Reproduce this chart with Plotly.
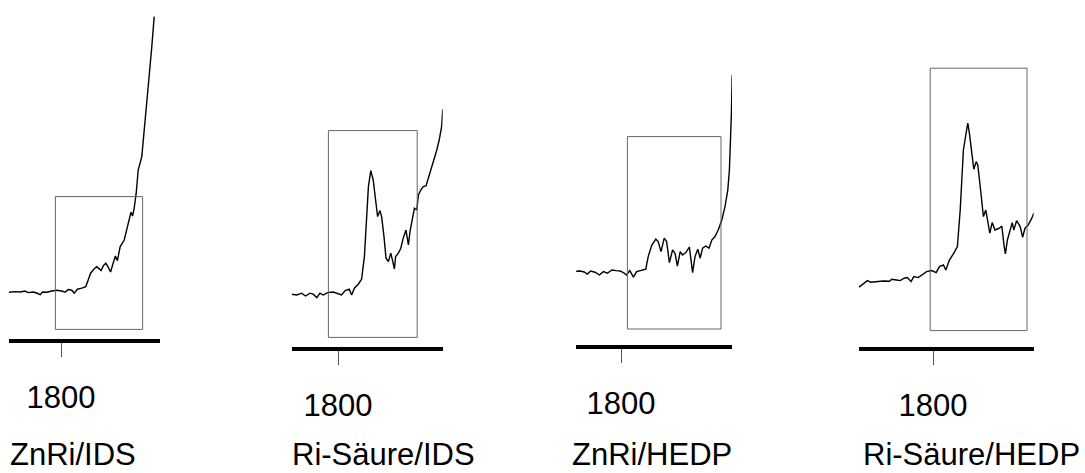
import plotly.graph_objects as go

# ---- spectra: wavenumber (cm-1) and absorbance (a.u.) -------------------
znri_ids_wn = [1930, 1915, 1902, 1890, 1882, 1869, 1861, 1852, 1846, 1836, 1823, 1811,
               1798, 1790, 1782, 1773, 1767, 1759, 1748, 1738, 1732, 1726, 1718, 1711,
               1705, 1700, 1694, 1688, 1682, 1676, 1671, 1664, 1659, 1652, 1642, 1636,
               1629, 1625, 1621, 1617, 1612, 1607, 1598, 1594, 1586, 1579, 1573, 1567]
znri_ids_abs = [0.244, 0.247, 0.245, 0.250, 0.242, 0.245, 0.240, 0.232, 0.245, 0.244, 0.250, 0.254,
                0.250, 0.244, 0.257, 0.254, 0.239, 0.259, 0.264, 0.272, 0.305, 0.339, 0.359, 0.372,
                0.362, 0.352, 0.377, 0.389, 0.369, 0.345, 0.380, 0.425, 0.402, 0.472, 0.505, 0.555,
                0.619, 0.644, 0.625, 0.664, 0.739, 0.855, 0.922, 1.005, 1.155, 1.339, 1.472, 1.622]

risaeure_ids_wn = [1916, 1903, 1891, 1881, 1870, 1862, 1853, 1845, 1837, 1826, 1812, 1801,
                   1791, 1782, 1772, 1766, 1759, 1749, 1741, 1734, 1728, 1724, 1718, 1712,
                   1706, 1701, 1695, 1691, 1685, 1680, 1674, 1668, 1663, 1659, 1656, 1649,
                   1643, 1637, 1630, 1624, 1620, 1614, 1609, 1603, 1599, 1593, 1587, 1580,
                   1574, 1568, 1560, 1553, 1547, 1541, 1538]
risaeure_ids_abs = [0.274, 0.270, 0.279, 0.265, 0.279, 0.274, 0.257, 0.279, 0.270, 0.282, 0.285, 0.279,
                    0.270, 0.292, 0.299, 0.270, 0.304, 0.325, 0.349, 0.462, 0.645, 0.812, 0.892, 0.845,
                    0.745, 0.662, 0.692, 0.662, 0.562, 0.454, 0.437, 0.479, 0.437, 0.400, 0.462, 0.479,
                    0.504, 0.554, 0.595, 0.520, 0.587, 0.645, 0.704, 0.695, 0.770, 0.795, 0.812, 0.815,
                    0.854, 0.904, 0.945, 0.995, 1.045, 1.112, 1.199]

znri_hedp_wn = [1912, 1902, 1892, 1884, 1876, 1865, 1854, 1844, 1834, 1823, 1812, 1802,
                1792, 1786, 1778, 1769, 1761, 1748, 1738, 1732, 1723, 1713, 1707, 1700,
                1692, 1686, 1679, 1671, 1665, 1659, 1652, 1646, 1638, 1629, 1621, 1615,
                1608, 1602, 1596, 1588, 1580, 1573, 1565, 1557, 1548, 1540, 1533, 1529,
                1526, 1524, 1522]
znri_hedp_abs = [0.379, 0.380, 0.375, 0.365, 0.380, 0.374, 0.360, 0.377, 0.369, 0.385, 0.382, 0.380,
                 0.369, 0.360, 0.382, 0.349, 0.377, 0.382, 0.389, 0.452, 0.510, 0.539, 0.527, 0.477,
                 0.544, 0.527, 0.422, 0.485, 0.469, 0.405, 0.477, 0.460, 0.472, 0.499, 0.372, 0.452,
                 0.489, 0.444, 0.494, 0.505, 0.494, 0.535, 0.552, 0.585, 0.635, 0.702, 0.785, 0.885,
                 1.019, 1.169, 1.360]

risaeure_hedp_wn = [1985, 1974, 1964, 1956, 1941, 1924, 1909, 1903, 1891, 1882, 1872, 1864,
                    1855, 1848, 1837, 1826, 1816, 1803, 1792, 1784, 1774, 1768, 1759, 1748,
                    1739, 1732, 1724, 1718, 1713, 1709, 1703, 1698, 1692, 1688, 1681, 1674,
                    1668, 1664, 1658, 1652, 1645, 1634, 1628, 1622, 1619, 1614, 1608, 1602,
                    1598, 1591, 1582, 1576, 1570, 1562, 1553, 1548]
risaeure_hedp_abs = [0.309, 0.324, 0.342, 0.334, 0.337, 0.340, 0.339, 0.349, 0.345, 0.342, 0.354, 0.357,
                     0.337, 0.362, 0.357, 0.375, 0.387, 0.392, 0.382, 0.412, 0.420, 0.395, 0.445, 0.479,
                     0.512, 0.695, 0.995, 1.070, 1.129, 1.079, 0.995, 0.899, 0.937, 0.920, 0.795, 0.662,
                     0.695, 0.654, 0.579, 0.632, 0.595, 0.604, 0.615, 0.512, 0.475, 0.545, 0.595, 0.632,
                     0.595, 0.642, 0.612, 0.559, 0.604, 0.620, 0.654, 0.679]

# marked regions: (wn_high, wn_low, abs_low, abs_high)
box_znri_ids = [1814, 1596, 0.058, 0.722]
box_risaeure_ids = [1824, 1602, 0.058, 1.092]
box_znri_hedp = [1784, 1550, 0.090, 1.052]
box_risaeure_hedp = [1807, 1565, 0.092, 1.404]

captions = ["ZnRi/IDS", "Ri-Säure/IDS", "ZnRi/HEDP", "Ri-Säure/HEDP"]
tick_values = [1800]
tick_labels = ["1800"]

# ---- layout geometry (pixels in a 1085 x 473 page) ----------------------
W, H = 1085, 473
panels = [
    # x pixel span, axis-line pixel row, wavenumber range, caption centre
    dict(px=(9, 160), line_y=341, wn=(1930, 1552.5), cap_x=73),
    dict(px=(291.7, 442.7), line_y=349, wn=(1915.75, 1538.25), cap_x=383),
    dict(px=(576, 732), line_y=347, wn=(1912.5, 1522.5), cap_x=652),
    dict(px=(859, 1033.7), line_y=349, wn=(1985, 1548.25), cap_x=971),
]
ABS_PER_PX = 0.005
LINE_W = 4

series = [
    (znri_ids_wn, znri_ids_abs, box_znri_ids),
    (risaeure_ids_wn, risaeure_ids_abs, box_risaeure_ids),
    (znri_hedp_wn, znri_hedp_abs, box_znri_hedp),
    (risaeure_hedp_wn, risaeure_hedp_abs, box_risaeure_hedp),
]

FONT = "Liberation Sans, Arial, Helvetica, sans-serif"

fig = go.Figure()
layout = dict(
    width=W, height=H,
    margin=dict(l=0, r=0, t=0, b=0),
    paper_bgcolor="white", plot_bgcolor="white",
    showlegend=False,
    font=dict(family=FONT, color="black", size=31),
    shapes=[], annotations=[],
)

for i, (p, (wn, ab, box)) in enumerate(zip(panels, series)):
    n = "" if i == 0 else str(i + 1)
    xa, ya = "x" + n, "y" + n
    fig.add_trace(go.Scatter(
        x=wn, y=ab, xaxis=xa, yaxis=ya, mode="lines",
        line=dict(color="black", width=1.4), hoverinfo="skip",
    ))
    bottom_px = p["line_y"] - LINE_W / 2
    layout["xaxis" + n] = dict(
        domain=[p["px"][0] / W, p["px"][1] / W],
        range=list(p["wn"]), anchor=ya,
        showline=True, linecolor="black", linewidth=LINE_W,
        showgrid=False, zeroline=False,
        ticks="outside", ticklen=14, tickwidth=1, tickcolor="#555555",
        tickvals=tick_values, ticktext=tick_labels,
        tickfont=dict(family=FONT, size=31, color="black"),
        ticklabelstandoff=14,
    )
    layout["yaxis" + n] = dict(
        domain=[1 - bottom_px / H, 1],
        range=[(p["line_y"] - bottom_px) * ABS_PER_PX, p["line_y"] * ABS_PER_PX],
        anchor=xa, visible=False,
    )
    layout["shapes"].append(dict(
        type="rect", xref=xa, yref=ya,
        x0=box[0], x1=box[1], y0=box[2], y1=box[3],
        line=dict(color="#666666", width=1), fillcolor="rgba(0,0,0,0)",
    ))
    layout["annotations"].append(dict(
        text=captions[i], xref="paper", yref="paper",
        x=p["cap_x"] / W, y=0, xanchor="center", yanchor="bottom",
        borderpad=0,
        showarrow=False, font=dict(family=FONT, size=31, color="black"),
    ))

fig.update_layout(**layout)
fig.write_html("out.html")
